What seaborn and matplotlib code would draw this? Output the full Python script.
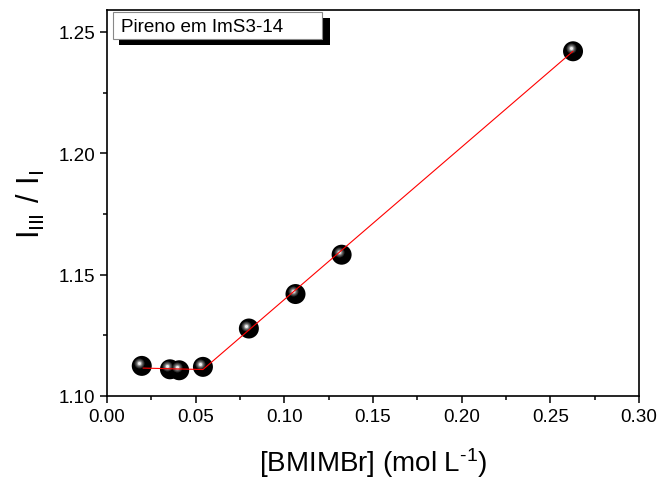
import matplotlib
matplotlib.use("Agg")
import matplotlib.pyplot as plt
import seaborn as sns
import numpy as np
from matplotlib.transforms import offset_copy
from matplotlib.patches import Rectangle
from matplotlib.ticker import MultipleLocator

# Data
conc = [0.0196, 0.0355, 0.0407, 0.0541, 0.0800, 0.1063, 0.1323, 0.2628]
ratio = [1.1124, 1.1110, 1.1106, 1.1120, 1.1278, 1.1420, 1.1582, 1.2420]
fit_x = [0.0203, 0.0541, 0.2628]
fit_y = [1.1115, 1.1109, 1.2420]
x_ticks = [0.00, 0.05, 0.10, 0.15, 0.20, 0.25, 0.30]
y_ticks = [1.10, 1.15, 1.20, 1.25]
legend_text = "Pireno em ImS3-14"

sns.set_style("ticks")
plt.rcParams['font.family'] = ['Liberation Sans', 'DejaVu Sans']
plt.rcParams['mathtext.fontset'] = 'custom'
plt.rcParams['mathtext.rm'] = 'Liberation Sans'
plt.rcParams['text.color'] = 'black'
plt.rcParams['axes.labelcolor'] = 'black'
plt.rcParams['xtick.color'] = 'black'
plt.rcParams['ytick.color'] = 'black'

W, H = 662, 481
fig = plt.figure(figsize=(W / 100, H / 100), dpi=100)
ax = fig.add_axes([107 / W, 1 - 397 / H, (639 - 107) / W, (397 - 11) / H])

def px2s(d):
    return (d * 0.72) ** 2

# Sphere base
sns.scatterplot(x=conc, y=ratio, ax=ax, s=px2s(20), color='black',
                edgecolor='none', linewidth=0, zorder=3, legend=False)
hl = offset_copy(ax.transData, fig=fig, x=-2.5, y=3.0, units='dots')
for d, c in [(10, '#2a2a2a'), (8, '#505050'), (6, '#7c7c7c'),
             (4.5, '#aaaaaa'), (3, '#eeeeee')]:
    ax.scatter(conc, ratio, s=px2s(d), color=c, linewidths=0,
               transform=hl, zorder=4)

sns.lineplot(x=fit_x, y=fit_y, ax=ax, color='red', linewidth=0.8,
             sort=False, estimator=None, zorder=5)

ax.set_xlim(0.0, 0.30)
ax.set_ylim(1.10, 1.259)
ax.set_xticks(x_ticks)
ax.set_yticks(y_ticks)
ax.set_xticklabels([f"{v:.2f}" for v in x_ticks])
ax.set_yticklabels([f"{v:.2f}" for v in y_ticks])
ax.xaxis.set_minor_locator(MultipleLocator(0.025))
ax.yaxis.set_minor_locator(MultipleLocator(0.025))
ax.tick_params(which='major', direction='out', length=5, width=1.1,
               labelsize=13.6, colors='black', top=False, right=False)
ax.tick_params(which='minor', direction='out', length=3, width=1.1,
               colors='black', top=False, right=False)
for sp in ax.spines.values():
    sp.set_visible(True)
    sp.set_linewidth(1.2)
    sp.set_color('black')

ax.set_xlabel(r'[BMIMBr] (mol L$\mathregular{^{\text{-}1}}$)', fontsize=20,
              labelpad=15, color='black')
ax.set_ylabel(r'$\mathregular{I_{III}\ /\ I_{I}}$', fontsize=22,
              labelpad=8, color='black')

# Legend box with shadow (figure pixel coordinates)
def fx(x):
    return x / W

def fy(y):
    return 1 - y / H

shadow = Rectangle((fx(119), fy(46)), fx(330) - fx(119), fy(19) - fy(46),
                   transform=fig.transFigure, facecolor='black',
                   edgecolor='none', zorder=10)
box = Rectangle((fx(113), fy(40)), fx(322) - fx(113), fy(13) - fy(40),
                transform=fig.transFigure, facecolor='white',
                edgecolor='#888888', linewidth=0.8, zorder=11)
fig.patches.extend([shadow, box])
fig.text(fx(121), fy(27), legend_text, fontsize=13.6, va='center',
         ha='left', zorder=12, color='black')

fig.savefig("out.png", dpi=100)
